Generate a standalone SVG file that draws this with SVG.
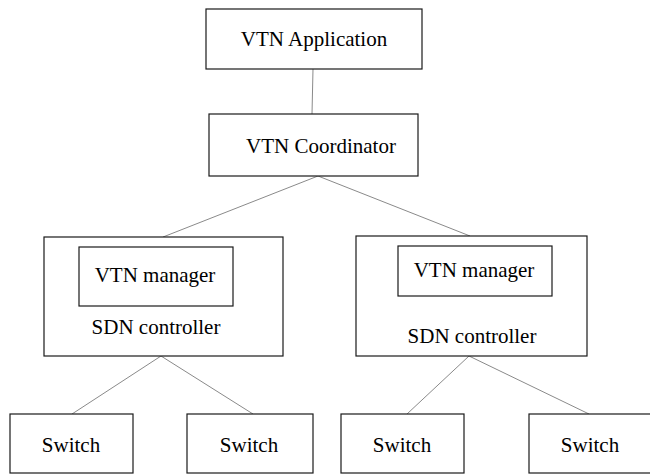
<svg xmlns="http://www.w3.org/2000/svg" width="650" height="475" viewBox="0 0 650 475">
  <style>
    .box { fill: #ffffff; stroke: #1a1a1a; stroke-width: 1.2; }
    .inner { fill: #ffffff; stroke: #1a1a1a; stroke-width: 1.2; }
    .link { stroke: #8a8a8a; stroke-width: 1; fill: none; }
    .label { font-family: "Times New Roman", Times, "Liberation Serif", "DejaVu Serif", serif; font-size: 21px; fill: #000000; text-anchor: middle; }
  </style>
  <rect x="0" y="0" width="650" height="475" fill="#ffffff"/>

  <g id="connectors">
    <line class="link" x1="313" y1="69" x2="312" y2="114"/>
    <line class="link" x1="318" y1="176" x2="163" y2="237"/>
    <line class="link" x1="318" y1="176" x2="470" y2="236"/>
    <line class="link" x1="161" y1="356" x2="72" y2="414"/>
    <line class="link" x1="161" y1="356" x2="253" y2="414"/>
    <line class="link" x1="469" y1="356" x2="407" y2="414"/>
    <line class="link" x1="469" y1="356" x2="589" y2="414"/>
  </g>

  <g id="vtn-application">
    <rect class="box" x="206" y="9" width="216" height="60"/>
    <text class="label" x="314" y="46">VTN Application</text>
  </g>

  <g id="vtn-coordinator">
    <rect class="box" x="209" y="114" width="209" height="62"/>
    <text class="label" x="321" y="153">VTN Coordinator</text>
  </g>

  <g id="sdn-controller-left">
    <rect class="box" x="44" y="237" width="239" height="119"/>
    <rect class="inner" x="79" y="247" width="154" height="59"/>
    <text class="label" x="155" y="282">VTN manager</text>
    <text class="label" x="156" y="334">SDN controller</text>
  </g>

  <g id="sdn-controller-right">
    <rect class="box" x="356" y="236" width="231" height="120"/>
    <rect class="inner" x="398" y="246" width="154" height="50"/>
    <text class="label" x="474" y="277">VTN manager</text>
    <text class="label" x="472" y="343">SDN controller</text>
  </g>

  <g id="switch-1">
    <rect class="box" x="10" y="414" width="123" height="59"/>
    <text class="label" x="71" y="452">Switch</text>
  </g>

  <g id="switch-2">
    <rect class="box" x="187" y="414" width="126" height="59"/>
    <text class="label" x="249" y="452">Switch</text>
  </g>

  <g id="switch-3">
    <rect class="box" x="341" y="414" width="123" height="59"/>
    <text class="label" x="402" y="452">Switch</text>
  </g>

  <g id="switch-4">
    <rect class="box" x="529" y="414" width="130" height="59"/>
    <text class="label" x="590" y="452">Switch</text>
  </g>
</svg>
